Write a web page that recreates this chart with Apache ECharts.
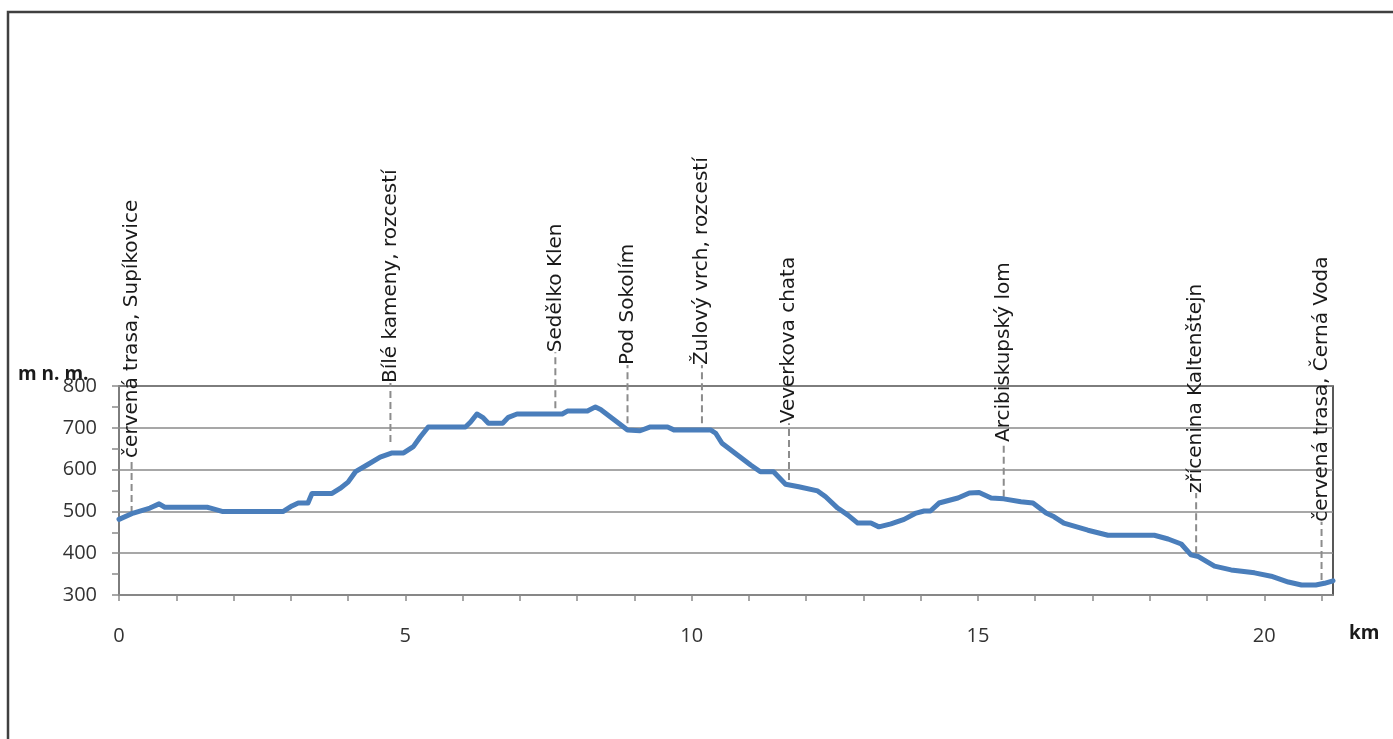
<!DOCTYPE html>
<html><head><meta charset="utf-8">
<script src="https://cdn.jsdelivr.net/npm/echarts@6/dist/echarts.min.js"></script>
<style>html,body{margin:0;padding:0;background:#fff}#c{width:1393px;height:739px}</style>
</head><body><div id="c"></div>
<script>
// Elevation profile (km, m n. m.)
const distanceKm = [0, 0.25, 0.54, 0.7, 0.8, 1.54, 1.6, 1.8, 2.87, 3.02, 3.13, 3.3, 3.37, 3.72, 3.86, 4.0, 4.13, 4.33, 4.56, 4.77, 4.97, 5.14, 5.26, 5.4, 6.05, 6.14, 6.25, 6.35, 6.45, 6.7, 6.8, 6.95, 7.74, 7.83, 8.18, 8.32, 8.41, 8.64, 8.88, 9.1, 9.28, 9.58, 9.69, 10.33, 10.42, 10.53, 10.8, 11.03, 11.2, 11.43, 11.64, 11.87, 12.2, 12.34, 12.55, 12.73, 12.9, 13.13, 13.27, 13.48, 13.71, 13.92, 14.06, 14.17, 14.32, 14.65, 14.85, 15.02, 15.23, 15.45, 15.75, 15.96, 16.19, 16.33, 16.5, 16.92, 17.27, 18.08, 18.32, 18.55, 18.72, 18.85, 19.13, 19.42, 19.83, 20.12, 20.42, 20.65, 20.9, 21.05, 21.2];
const elevation = [481, 496, 508, 518, 510, 510, 508, 500, 500, 513, 520, 520, 543, 543, 555, 570, 595, 611, 630, 640, 640, 655, 678, 702, 702, 714, 733, 725, 711, 711, 725, 733, 733, 740, 740, 750, 744, 720, 695, 693, 702, 702, 695, 695, 687, 663, 635, 611, 595, 595, 565, 559, 549, 535, 508, 491, 472, 472, 463, 470, 481, 496, 501, 501, 520, 532, 544, 545, 532, 530, 523, 520, 496, 487, 472, 455, 443, 443, 434, 422, 396, 392, 369, 360, 353, 345, 331, 324, 324, 328, 334];

// Waypoints
const waypointNames = ["červená trasa, Supíkovice", "Bílé kameny, rozcestí", "Sedělko Klen", "Pod Sokolím", "Žulový vrch, rozcestí", "Veverkova chata", "Arcibiskupský lom", "zřícenina Kaltenštejn", "červená trasa, Černá Voda"];
const waypointKm = [0.22, 4.74, 7.62, 8.88, 10.18, 11.70, 15.45, 18.81, 21.0];
const waypointElev = [496, 666, 747, 711, 711, 575, 535, 400, 336];
const waypointLabelElev = [628, 807, 881, 850, 850, 711, 666, 544, 475];

// Axis labels
const xLabelKm = [0, 5, 10, 15, 20];
const yAxisTitle = "m n. m.";
const xAxisTitle = "km";

const FONT = '"Open Sans", "Noto Sans", sans-serif';
const LABEL_FONT = '"DejaVu Sans", "Open Sans", sans-serif';
const chart = echarts.init(document.getElementById('c'), null, {renderer: 'canvas'});

const option = {
  animation: false,
  backgroundColor: '#fff',
  grid: {left: 119, right: 60, top: 386, bottom: 144, show: true, borderColor: '#222', borderWidth: 1.5, backgroundColor: 'transparent'},
  xAxis: {
    type: 'value', min: 0, max: 21.2, interval: 1,
    axisLine: {lineStyle: {color: '#8a8a8a', width: 1.5}},
    axisTick: {show: true, length: 6, lineStyle: {color: '#8a8a8a', width: 1.5}},
    axisLabel: {margin: 31, color: '#333', fontSize: 20, fontFamily: FONT, showMaxLabel: false,
      formatter: v => xLabelKm.indexOf(Math.round(v * 100) / 100) >= 0 ? String(v) : ''},
    splitLine: {show: false}
  },
  yAxis: {
    type: 'value', min: 300, max: 800, interval: 100,
    axisLine: {show: true, lineStyle: {color: '#8a8a8a', width: 1.5}},
    axisTick: {show: true, length: 7, lineStyle: {color: '#8a8a8a', width: 1.5}},
    minorTick: {show: true, splitNumber: 2, length: 7, lineStyle: {color: '#8a8a8a', width: 1.5}},
    axisLabel: {margin: 22, color: '#333', fontSize: 20, fontFamily: FONT},
    splitLine: {show: true, lineStyle: {color: '#8a8a8a', width: 1.5}}
  },
  series: [
    {
      type: 'custom', clip: false, z: 2,
      data: waypointKm.map((k, i) => [k, waypointElev[i], waypointLabelElev[i], i]),
      renderItem: (params, api) => {
        const p0 = api.coord([api.value(0), api.value(1)]);
        const p1 = api.coord([api.value(0), api.value(2)]);
        const name = waypointNames[api.value(3)];
        return {type: 'group', children: [
          {type: 'line', shape: {x1: p0[0], y1: p0[1], x2: p1[0], y2: p1[1]},
           style: {stroke: '#8c8c8c', lineWidth: 2, lineDash: [7, 4]}},
          {type: 'text', x: p1[0], y: p1[1], rotation: Math.PI / 2,
           style: {text: name, fill: '#1a1a1a', fontSize: 20, fontFamily: LABEL_FONT, align: 'left', verticalAlign: 'middle'}}
        ]};
      }
    },
    {
      type: 'line', z: 3, showSymbol: false, smooth: false,
      data: distanceKm.map((d, i) => [d, elevation[i]]),
      lineStyle: {color: '#4a7ebb', width: 5, cap: 'round', join: 'round'}
    }
  ],
  graphic: [
    {type: 'rect', shape: {x: 8, y: 12, width: 1420, height: 800}, style: {fill: 'none', stroke: '#404040', lineWidth: 2.5}, silent: true},
    {type: 'text', left: 18, top: 365, style: {text: yAxisTitle, fill: '#1a1a1a', fontSize: 19, fontWeight: 'bold', fontFamily: FONT}},
    {type: 'text', left: 1349, top: 624, style: {text: xAxisTitle, fill: '#1a1a1a', fontSize: 19, fontWeight: 'bold', fontFamily: FONT}}
  ]
};
chart.setOption(option);
</script></body></html>
